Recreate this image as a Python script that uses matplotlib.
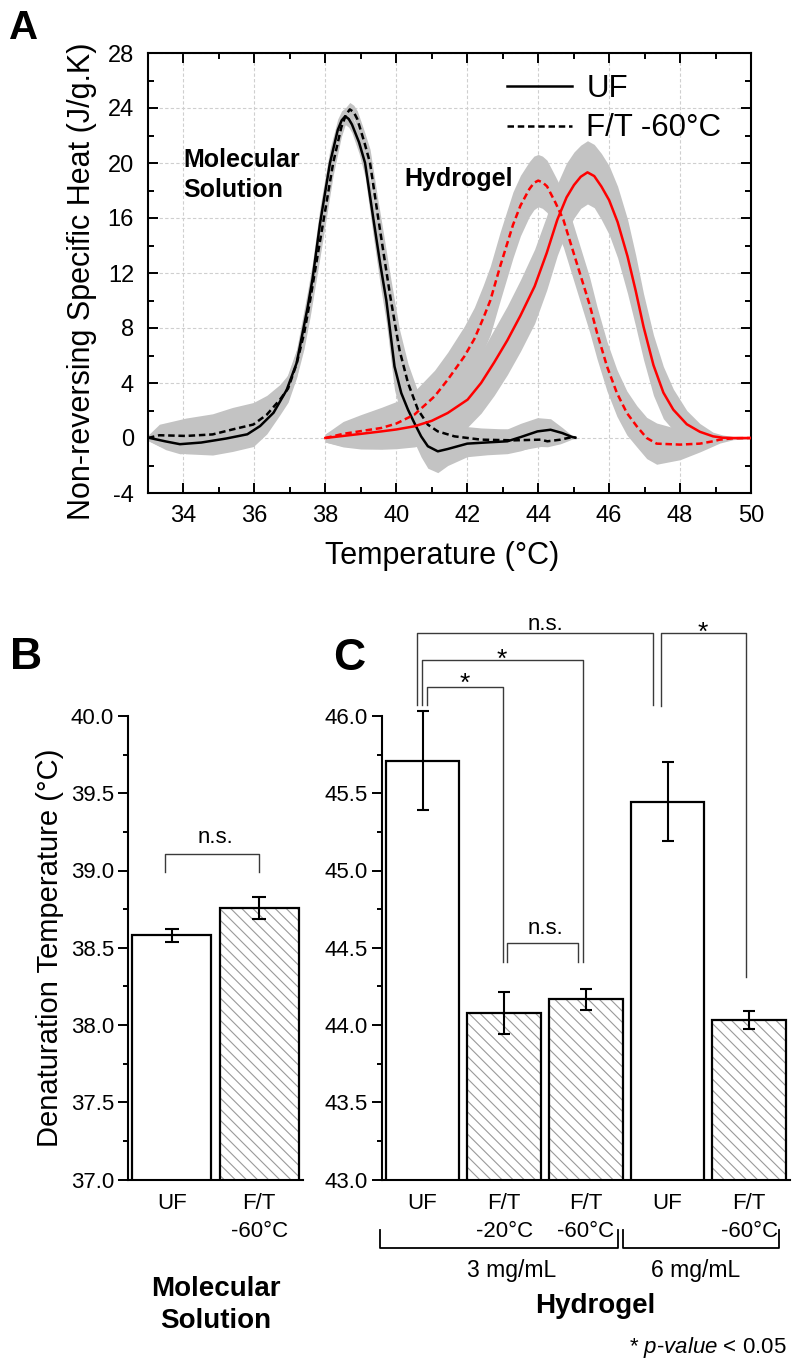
import numpy as np
import matplotlib
matplotlib.use('Agg')
import matplotlib.pyplot as plt
from matplotlib.ticker import MultipleLocator, FormatStrFormatter

plt.rcParams['font.family'] = ['Liberation Sans', 'DejaVu Sans']
plt.rcParams['mathtext.fontset'] = 'custom'
plt.rcParams['mathtext.rm'] = 'Liberation Sans'
plt.rcParams['mathtext.it'] = 'Liberation Sans:italic'
plt.rcParams['axes.unicode_minus'] = False
plt.rcParams['hatch.linewidth'] = 0.8
plt.rcParams['hatch.color'] = '#9a9a9a'

# ---------------- Panel A data ----------------
# Molecular solution, UF (black solid)
ms_uf_T = [33.0, 33.5, 33.9, 34.5, 35.2, 35.8, 36.16, 36.54, 36.91, 37.19, 37.5, 37.64,
           37.85, 38.13, 38.35, 38.46, 38.56, 38.66, 38.75, 38.95, 39.12, 39.35, 39.55,
           39.72, 39.95, 40.14, 40.33, 40.51, 40.70, 40.89, 41.17, 41.45, 42.0, 42.57,
           43.13, 43.51, 43.98, 44.35, 44.68, 44.96, 45.05]
ms_uf_V = [0.03, -0.25, -0.45, -0.33, -0.04, 0.27, 0.87, 1.84, 3.5, 5.45, 9.5, 11.6,
           15.6, 20.0, 22.4, 23.1, 23.4, 23.2, 22.8, 21.5, 20.0, 16.0, 12.6,
           10.0, 5.2, 3.27, 2.06, 1.09, 0.12, -0.6, -0.97, -0.8, -0.41, -0.32,
           -0.24, 0.07, 0.48, 0.6, 0.36, 0.07, 0.02]
ms_uf_SD = [0.2, 0.6, 0.7, 0.75, 0.8, 0.6, 0.6, 0.7, 0.9, 1.0, 1.2, 1.2,
            1.2, 1.0, 0.8, 0.7, 0.6, 0.6, 0.6, 0.8, 1.0, 1.3, 1.5,
            1.6, 1.7, 1.6, 1.5, 1.4, 1.5, 1.6, 1.55, 1.2, 0.95, 0.9,
            0.9, 1.0, 1.0, 0.8, 0.4, 0.1, 0.05]

# Molecular solution, F/T -60C (black dashed)
ms_ft_T = [33.0, 33.32, 34.07, 34.82, 35.38, 35.97, 36.35, 36.72, 36.95, 37.19, 37.4,
           37.57, 37.75, 37.96, 38.22, 38.45, 38.58, 38.69, 38.8, 38.9, 39.1, 39.26,
           39.49, 39.65, 39.83, 40.09, 40.33, 40.61, 40.89, 41.17, 41.64, 42.39, 43.32,
           44.07, 44.26, 44.63, 44.96, 45.05]
ms_ft_V = [0.0, 0.2, 0.15, 0.26, 0.62, 0.98, 1.7, 2.79, 3.6, 5.4, 7.6,
           10.0, 12.8, 16.0, 20.0, 22.6, 23.5, 23.9, 23.7, 23.2, 21.5, 20.0,
           16.0, 13.3, 10.3, 6.4, 4.0, 2.06, 0.97, 0.48, 0.12, -0.12, -0.17,
           -0.12, -0.24, -0.12, 0.07, 0.05]
ms_ft_SD = [0.2, 0.8, 1.3, 1.5, 1.6, 1.6, 1.4, 1.1, 1.0, 1.0, 1.1,
            1.2, 1.2, 1.1, 0.9, 0.7, 0.55, 0.5, 0.5, 0.6, 0.8, 1.0,
            1.2, 1.4, 1.5, 1.5, 1.4, 1.3, 1.0, 0.9, 0.8, 0.85, 0.8,
            0.5, 0.4, 0.3, 0.15, 0.1]

# Hydrogel, UF (red solid)
hg_uf_T = [38.0, 38.5, 39.0, 39.58, 40.0, 40.51, 41.0, 41.45, 42.01, 42.39, 42.76,
           43.13, 43.5, 43.9, 44.24, 44.54, 44.8, 45.01, 45.2, 45.39, 45.58, 45.78,
           46.0, 46.24, 46.52, 46.75, 46.97, 47.25, 47.53, 47.81, 48.19, 48.56, 48.93,
           49.2, 49.5, 50.0]
hg_uf_V = [0.0, 0.15, 0.3, 0.48, 0.62, 0.85, 1.25, 1.82, 2.79, 4.0, 5.5,
           7.1, 8.9, 11.03, 13.45, 15.88, 17.5, 18.4, 19.0, 19.32, 19.05, 18.3,
           17.3, 15.7, 13.2, 10.7, 8.1, 5.3, 3.3, 2.06, 1.0, 0.45, 0.12,
           0.02, 0.0, 0.0]
hg_uf_SD = [0.3, 0.8, 1.1, 1.3, 1.4, 1.5, 1.6, 1.8, 2.0, 2.2, 2.4,
            2.5, 2.6, 2.7, 2.7, 2.6, 2.5, 2.4, 2.3, 2.3, 2.3, 2.4,
            2.5, 2.6, 2.7, 2.6, 2.4, 2.2, 1.9, 1.5, 1.0, 0.6, 0.3,
            0.2, 0.1, 0.05]

# Hydrogel, F/T -60C (red dashed)
hg_ft_T = [38.0, 38.5, 39.0, 39.58, 40.0, 40.51, 41.08, 41.45, 41.92, 42.2, 42.45,
           42.65, 42.93, 43.29, 43.5, 43.75, 43.88, 44.0, 44.12, 44.25, 44.49, 44.71,
           45.0, 45.29, 45.45, 45.66, 45.94, 46.22, 46.5, 46.78, 47.06, 47.34, 48.0,
           48.56, 48.93, 49.12, 49.5, 50.0]
hg_ft_V = [0.0, 0.3, 0.5, 0.73, 1.05, 1.7, 3.03, 4.24, 5.94, 7.2, 8.7,
           10.0, 12.5, 15.5, 16.9, 18.1, 18.55, 18.72, 18.6, 18.3, 17.1, 15.88,
           13.45, 11.03, 9.7, 7.64, 5.21, 3.27, 1.82, 0.85, 0.0, -0.41, -0.48,
           -0.41, -0.24, -0.12, -0.02, 0.0]
hg_ft_SD = [0.3, 0.9, 1.2, 1.5, 1.6, 1.7, 1.9, 2.0, 2.2, 2.3, 2.4,
            2.5, 2.5, 2.4, 2.2, 2.0, 1.95, 1.9, 1.9, 1.9, 1.9, 2.0,
            2.0, 2.0, 2.0, 1.9, 1.8, 1.7, 1.6, 1.5, 1.5, 1.5, 1.1,
            0.6, 0.35, 0.25, 0.1, 0.05]

legend_labels = ['UF', 'F/T -60°C']

# ---------------- Panel B / C data ----------------
b_labels = ['UF', 'F/T\n-60°C']
b_values = [38.58, 38.757]
b_errors = [0.04, 0.072]
b_hatched = [False, True]

c_labels = ['UF', 'F/T\n-20°C', 'F/T\n-60°C', 'UF', 'F/T\n-60°C']
c_values = [45.71, 44.078, 44.168, 45.445, 44.033]
c_errors = [0.32, 0.138, 0.068, 0.255, 0.057]
c_hatched = [False, True, True, False, True]
c_groups = ['3 mg/mL', '6 mg/mL']

W, H = 800, 1369
fig = plt.figure(figsize=(W / 100, H / 100), dpi=100)


def fx(px):
    return px / W


def fy(py):
    return 1 - py / H


BAND = '#c3c3c3'

# ======================= Panel A =======================
axA = fig.add_axes([fx(148), fy(493), (751 - 148) / W, (493 - 53) / H])
for T, V, SD in [(ms_uf_T, ms_uf_V, ms_uf_SD), (ms_ft_T, ms_ft_V, ms_ft_SD),
                 (hg_uf_T, hg_uf_V, hg_uf_SD), (hg_ft_T, hg_ft_V, hg_ft_SD)]:
    T = np.array(T); V = np.array(V); SD = np.array(SD)
    axA.fill_between(T, V - SD, V + SD, color=BAND, lw=0, zorder=1)

dash = (0, (2.6, 1.5))
lA1, = axA.plot(ms_uf_T, ms_uf_V, color='black', lw=1.8, zorder=3)
lA2, = axA.plot(ms_ft_T, ms_ft_V, color='black', lw=1.8, ls=dash, zorder=3)
axA.plot(hg_uf_T, hg_uf_V, color='#ff0000', lw=1.8, zorder=3)
axA.plot(hg_ft_T, hg_ft_V, color='#ff0000', lw=1.8, ls=dash, zorder=3)

axA.set_xlim(33, 50)
axA.set_ylim(-4, 28)
axA.xaxis.set_major_locator(MultipleLocator(2))
axA.xaxis.set_minor_locator(MultipleLocator(1))
axA.yaxis.set_major_locator(MultipleLocator(4))
axA.yaxis.set_minor_locator(MultipleLocator(2))
axA.tick_params(which='both', direction='in', top=True, right=True, width=1.4)
axA.tick_params(which='major', length=7.5)
axA.tick_params(which='minor', length=4.5)
axA.tick_params(axis='x', labelsize=17, pad=9)
axA.tick_params(axis='y', labelsize=17, pad=10)
for s in axA.spines.values():
    s.set_linewidth(1.5)
axA.set_axisbelow(True)
axA.grid(True, which='major', color='#cfcfcf', ls=(0, (3, 2)), lw=0.8)
axA.set_xlabel('Temperature (°C)', fontsize=22)
axA.set_ylabel('Non-reversing Specific Heat (J/g.K)', fontsize=22)
axA.xaxis.set_label_coords(0.488, -0.108)
axA.yaxis.set_label_coords(-0.084, 0.482)
axA.legend([lA1, lA2], legend_labels, loc='upper left', bbox_to_anchor=(0.5947, 0.952),
           frameon=False, fontsize=22.5, borderpad=0, borderaxespad=0,
           handlelength=2.1, handletextpad=0.45, labelspacing=0.3)
axA.text(33.99, 17.5, 'Molecular\nSolution', fontsize=18, fontweight='bold',
         ha='left', va='baseline', linespacing=1.35)
axA.text(40.22, 18.34, 'Hydrogel', fontsize=18, fontweight='bold',
         ha='left', va='baseline')


# ======================= Panels B, C =======================
def bar_panel(ax, labels, values, errors, hatched, ymin, ymax, capsize):
    x = np.arange(len(values))
    for i in range(len(values)):
        if hatched[i]:
            ax.bar(x[i], values[i], width=0.9, color='white', edgecolor='#9a9a9a',
                   hatch='\\\\\\', lw=0, zorder=2)
        else:
            ax.bar(x[i], values[i], width=0.9, color='white', lw=0, zorder=2)
        ax.bar(x[i], values[i], width=0.9, fill=False, edgecolor='black', lw=1.6, zorder=3)
    eb = ax.errorbar(x, values, yerr=errors, fmt='none', ecolor='black', elinewidth=1.5,
                     capsize=capsize, capthick=1.5, zorder=4)
    for art in list(eb.lines[1]) + list(eb.lines[2]):
        art.set_clip_on(False)
    ax.set_xlim(-0.5, len(values) - 0.5)
    ax.set_ylim(ymin, ymax)
    ax.yaxis.set_major_locator(MultipleLocator(0.5))
    ax.yaxis.set_minor_locator(MultipleLocator(0.25))
    ax.yaxis.set_major_formatter(FormatStrFormatter('%.1f'))
    ax.set_xticks(x)
    ax.set_xticklabels(labels)
    for lab in ax.get_xticklabels():
        lab.set_linespacing(1.45)
    ax.tick_params(axis='x', length=0, labelsize=16, pad=9.5)
    ax.tick_params(axis='y', which='both', direction='out', width=1.4, labelsize=16, pad=3)
    ax.tick_params(axis='y', which='major', length=7)
    ax.tick_params(axis='y', which='minor', length=3.5)
    ax.spines['top'].set_visible(False)
    ax.spines['right'].set_visible(False)
    ax.spines['left'].set_linewidth(1.5)
    ax.spines['bottom'].set_linewidth(1.5)
    return x


def bracket(ax, x0, x1, ytop, y0b, y1b, color='#3a3a3a', lw=1.0):
    ax.plot([x0, x0, x1, x1], [y0b, ytop, ytop, y1b], color=color, lw=lw,
            clip_on=False, zorder=5)


bottom_px = 1179.5
axB = fig.add_axes([fx(128), fy(bottom_px), (303 - 128) / W, (bottom_px - 716) / H])
xb = bar_panel(axB, b_labels, b_values, b_errors, b_hatched, 37.0, 40.0, 5.2)
axB.set_ylabel('Denaturation Temperature (°C)', fontsize=21)
axB.yaxis.set_label_coords(-0.366, 0.5)
bracket(axB, xb[0] - 0.08, xb[1], 39.105, 38.99, 38.99)
axB.text((xb[0] + xb[1]) / 2, 39.18, 'n.s.', fontsize=16, ha='center', va='baseline')

axC = fig.add_axes([fx(381.7), fy(bottom_px), (790 - 381.7) / W, (bottom_px - 716) / H])
xc = bar_panel(axC, c_labels, c_values, c_errors, c_hatched, 43.0, 46.0, 4.5)
# significance brackets
bracket(axC, xc[0] - 0.07, xc[3] - 0.18, 46.54, 46.07, 46.07)
axC.text(1.51, 46.555, 'n.s.', fontsize=16, ha='center', va='baseline')
bracket(axC, xc[3] - 0.08, xc[4] - 0.035, 46.54, 46.065, 44.31)
axC.text(3.43, 46.49, '*', fontsize=19, ha='center', va='baseline')
bracket(axC, xc[0] - 0.01, xc[2] - 0.035, 46.36, 46.07, 44.41)
axC.text(0.97, 46.32, '*', fontsize=19, ha='center', va='baseline')
bracket(axC, xc[0] + 0.05, xc[1] - 0.02, 46.19, 46.07, 44.41)
axC.text(0.52, 46.16, '*', fontsize=19, ha='center', va='baseline')
bracket(axC, xc[1] + 0.04, xc[2] - 0.095, 44.53, 44.41, 44.41)
axC.text(1.5, 44.59, 'n.s.', fontsize=16, ha='center', va='baseline')

# group brackets below C
bracket(axC, -0.52, 2.39, 42.557, 42.676, 42.676, color='black', lw=1.3)
bracket(axC, 2.455, 4.37, 42.557, 42.676, 42.676, color='black', lw=1.3)
axC.text(1.09, 42.37, c_groups[0], fontsize=16.5, ha='center', va='baseline')
axC.text(3.35, 42.37, c_groups[1], fontsize=16.5, ha='center', va='baseline')

# bottom group titles
fig.text(fx(215.8), fy(1328.3), 'Molecular\nSolution', fontsize=20, fontweight='bold',
         ha='center', va='baseline', linespacing=1.3)
fig.text(fx(595), fy(1313.3), 'Hydrogel', fontsize=20, fontweight='bold',
         ha='center', va='baseline')
fig.text(fx(786.7), fy(1353.3), r'* $\mathit{p}$-$\mathit{value}$ < 0.05', fontsize=16,
         ha='right', va='baseline')

# panel letters
fig.text(fx(9), fy(39.3), 'A', fontsize=29, fontweight='bold', ha='left', va='baseline')
fig.text(fx(10), fy(669.3), 'B', fontsize=32, fontweight='bold', ha='left', va='baseline')
fig.text(fx(333), fy(670), 'C', fontsize=32, fontweight='bold', ha='left', va='baseline')

fig.savefig('out.png', dpi=100)
